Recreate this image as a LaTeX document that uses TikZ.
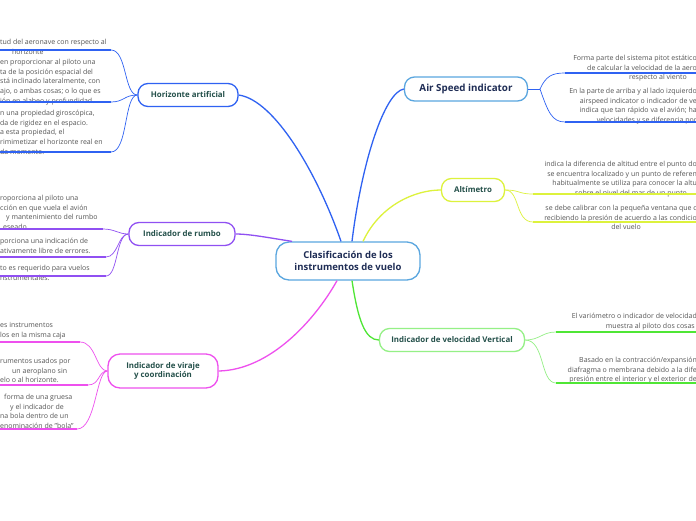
\documentclass[tikz,border=0pt]{standalone}
\usepackage{fontspec}
\setmainfont{Open Sans}
\usepackage{xcolor}
\definecolor{cNavy}{HTML}{1F2D55}
\definecolor{cTeal}{HTML}{24504A}
\definecolor{cGrey}{HTML}{555555}
\definecolor{cSky}{HTML}{5AA6DF}
\definecolor{cBlue}{HTML}{2F62F2}
\definecolor{cLime}{HTML}{DDF23C}
\definecolor{cGreen}{HTML}{4FE635}
\definecolor{cPurple}{HTML}{9050F2}
\definecolor{cMagenta}{HTML}{EE50EE}
\newcommand{\lead}[1]{\rule{#1pt}{0pt}}
\tikzset{
  topic/.style={rectangle, rounded corners=10pt, draw, line width=1.3pt, fill=white, align=center, font=\fontsize{7.9}{9.5}\selectfont\bfseries, text=cTeal, inner sep=2pt},
  note/.style={inner sep=0pt, font=\fontsize{7}{9.7}\selectfont, text=cGrey},
  branch/.style={line width=1.3pt},
  twig/.style={line width=0.7pt},
  uline/.style={line width=1.8pt}
}

\begin{document}
\begin{tikzpicture}[x=1pt, y=-1pt]
  \useasboundingbox[fill=white] (0,0) rectangle (696,520);
  \coordinate (lft) at (0,0);
  \coordinate (rgt) at (696,0);
  % topics
  \node[topic, draw=cSky, text=cNavy, font=\fontsize{9.5}{11.5}\selectfont\bfseries, minimum width=144pt, minimum height=38pt, rounded corners=13pt] (c) at (348,261) {Clasificación de los\\instrumentos de vuelo};
  \node[topic, draw=cSky, text=cNavy, font=\fontsize{9.8}{11}\selectfont\bfseries, minimum width=123pt, minimum height=24pt] (as) at (466,89) {Air Speed indicator};
  \node[topic, draw=cLime, minimum width=63pt, minimum height=23pt] (al) at (473,190) {Altímetro};
  \node[topic, draw=cGreen!60, minimum width=145pt, minimum height=23pt] (vv) at (452,340) {Indicador de velocidad Vertical};
  \node[topic, draw=cBlue, minimum width=100pt, minimum height=23pt] (ha) at (188,95) {Horizonte artificial};
  \node[topic, draw=cPurple, minimum width=106pt, minimum height=23pt] (ir) at (182,234) {Indicador de rumbo};
  \node[topic, draw=cMagenta, minimum width=110pt, minimum height=34pt, rounded corners=12pt] (iv) at (163,371) {Indicador de viraje\\y coordinación};

  % notes, right side
  \node[note, anchor=north east, align=right] (asT1) at (697,55) {Forma parte del sistema pitot estático\\de calcular la velocidad de la aero\\respecto al viento\lead{10}};
  \node[note, anchor=north east, align=right] (asT2) at (697,88) {En la parte de arriba y al lado izquierdo\\airspeed indicator o indicador de ve\\indica que tan rápido va el avión; ha\\velocidades y se diferencia por};
  \node[note, anchor=north east, align=right] (alT1) at (697,161) {indica la diferencia de altitud entre el punto do\\se encuentra localizado y un punto de referen\\habitualmente se utiliza para conocer la altu\\sobre el nivel del mar de un punto.\lead{8}};
  \node[note, anchor=north east, align=right] (alT2) at (697,205) {se debe calibrar con la pequeña ventana que c\\recibiendo la presión de acuerdo a las condicio\\del vuelo\lead{56}};
  \node[note, anchor=north east, align=right] (vvT1) at (697,313) {El variómetro o indicador de velocidad\\muestra al piloto dos cosas\lead{2}};
  \node[note, anchor=north east, align=right] (vvT2) at (697,357) {Basado en la contracción/expansión\\diafragma o membrana debido a la dife\\presión entre el interior y el exterior de};

  % notes, left side
  \node[note, anchor=north west, align=left] (haT1) at (0,39) {tud del aeronave con respecto al\\\lead{12}horizonte};
  \node[note, anchor=north west, align=left] (haT2) at (0,59) {en proporcionar al piloto una\\ta de la posición espacial del\\stá inclinado lateralmente, con\\ajo, o ambas cosas; o lo que es\\ión en alabeo y profundidad.};
  \node[note, anchor=north west, align=left] (haT3) at (0,110) {n una propiedad giroscópica,\\da de rigidez en el espacio.\\a esta propiedad, el\\rimimetizar el horizonte real en\\da momento.};
  \node[note, anchor=north west, align=left] (irT1) at (0,195) {roporciona al piloto una\\cción en que vuela el avión\\\lead{6}y mantenimiento del rumbo\\\lead{3}eseado.};
  \node[note, anchor=north west, align=left] (irT2) at (0,238) {porciona una indicación de\\ativamente libre de errores.};
  \node[note, anchor=north west, align=left] (irT3) at (0,265) {to es requerido para vuelos\\nstrumentales.};
  \node[note, anchor=north west, align=left] (ivT1) at (0,322) {es instrumentos\\los en la misma caja};
  \node[note, anchor=north west, align=left] (ivT2) at (0,358) {rumentos usados por\\\lead{12}un aeroplano sin\\elo o al horizonte.};
  \node[note, anchor=north west, align=left] (ivT3) at (0,394) {\lead{4}forma de una gruesa\\\lead{10}y el indicador de\\na bola dentro de un\\enominación de "bola"};

  % main branches
  \draw[branch, cBlue] ([xshift=-7]c.north) .. controls (318,175) and (275,100) .. (ha.east);
  \draw[branch, cBlue] ([xshift=4]c.north) .. controls (362,160) and (385,92) .. (as.west);
  \draw[branch, cLime] ([xshift=15]c.north) .. controls (380,205) and (415,190) .. (al.west);
  \draw[branch, cPurple] ([xshift=-56]c.north) .. controls (270,238) and (250,234) .. (ir.east);
  \draw[branch, cMagenta] ([xshift=-11]c.south) .. controls (315,320) and (270,370) .. (iv.east);
  \draw[branch, cGreen] ([xshift=4]c.south) .. controls (358,320) and (365,340) .. (vv.west);

  % Air Speed indicator
  \coordinate (asJ) at (540,89);
  \coordinate (asA) at (565,73);
  \coordinate (asB) at (565,122);
  \draw[twig, cBlue] (as.east) -- (asJ);
  \draw[twig, cBlue] (asJ) .. controls (546,76) and (552,73) .. (asA);
  \draw[twig, cBlue] (asJ) .. controls (548,112) and (552,122) .. (asB);
  \draw[uline, cBlue] (asA) -- (asA -| rgt);
  \draw[uline, cBlue] (asB) -- (asB -| rgt);

  % Altimetro
  \coordinate (alA) at (533,194);
  \coordinate (alB) at (533,222);
  \draw[twig, cLime] (al.east) .. controls (520,190) and (518,194) .. (alA);
  \draw[twig, cLime] (al.east) .. controls (520,190) and (515,222) .. (alB);
  \draw[uline, cLime] (alA) -- (alA -| rgt);
  \draw[uline, cLime] (alB) -- (alB -| rgt);

  % velocidad vertical
  \coordinate (vvA) at (556,332);
  \coordinate (vvB) at (556,383);
  \draw[twig, cGreen!60] (vv.east) .. controls (540,340) and (542,332) .. (vvA);
  \draw[twig, cGreen!60] (vv.east) .. controls (545,340) and (540,383) .. (vvB);
  \draw[uline, cGreen] (vvA) -- (vvA -| rgt);
  \draw[uline, cGreen] (vvB) -- (vvB -| rgt);

  % Horizonte artificial
  \coordinate (haA) at (111,50);
  \coordinate (haB) at (111,102);
  \coordinate (haC) at (111,152);
  \draw[twig, cBlue] (ha.west) .. controls (124,95) and (127,50) .. (haA);
  \draw[twig, cBlue] (ha.west) .. controls (124,95) and (124,102) .. (haB);
  \draw[twig, cBlue] (ha.west) .. controls (124,95) and (128,152) .. (haC);
  \draw[uline, cBlue] (haA) -- (haA -| lft);
  \draw[uline, cBlue] (haB) -- (haB -| lft);
  \draw[uline, cBlue] (haC) -- (haC -| lft);

  % Indicador de rumbo
  \coordinate (irA) at (103,229);
  \coordinate (irB) at (106,257);
  \coordinate (irC) at (106,276);
  \draw[twig, cPurple] (ir.west) .. controls (118,234) and (115,229) .. (irA);
  \draw[twig, cPurple] (ir.west) .. controls (118,234) and (118,257) .. (irB);
  \draw[twig, cPurple] (ir.west) .. controls (116,234) and (118,276) .. (irC);
  \draw[uline, cPurple] (irA) -- (irA -| lft);
  \draw[uline, cPurple] (irB) -- (irB -| lft);
  \draw[uline, cPurple] (irC) -- (irC -| lft);

  % Indicador de viraje
  \coordinate (ivA) at (80,342);
  \coordinate (ivB) at (88,385);
  \coordinate (ivC) at (77,429);
  \draw[twig, cMagenta] (iv.west) .. controls (96,371) and (96,342) .. (ivA);
  \draw[twig, cMagenta] (iv.west) .. controls (98,371) and (100,385) .. (ivB);
  \draw[twig, cMagenta] (iv.west) .. controls (96,371) and (96,429) .. (ivC);
  \draw[uline, cMagenta] (ivA) -- (ivA -| lft);
  \draw[uline, cMagenta] (ivB) -- (ivB -| lft);
  \draw[uline, cMagenta] (ivC) -- (ivC -| lft);
\end{tikzpicture}
\end{document}
